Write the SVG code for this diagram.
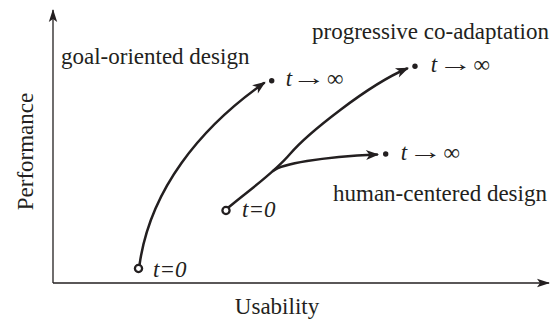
<svg xmlns="http://www.w3.org/2000/svg" width="559" height="320" viewBox="0 0 559 320" font-family="'Liberation Serif', 'Times New Roman', 'DejaVu Serif', serif">
<style>
text{font-family:'Liberation Serif','Times New Roman','DejaVu Serif',serif;font-size:23px;fill:#231f20}
.it{font-style:italic}
.axis{stroke:#231f20;stroke-width:1.3;fill:none}
.curve{stroke:#231f20;stroke-width:2.5;fill:none;stroke-linecap:round}
.open{fill:#fff;stroke:#231f20;stroke-width:2.3}
.dot{fill:#231f20}
</style>
<defs>
<marker id="ah" viewBox="-14 -6 15 12" markerWidth="15" markerHeight="12" refX="-2" refY="0" markerUnits="userSpaceOnUse" orient="auto">
<path d="M0,0 L-13,-5 L-9.5,0 L-13,5 Z" fill="#231f20"/>
</marker>
<marker id="axah" viewBox="-14 -6 15 12" markerWidth="15" markerHeight="12" refX="-1" refY="0" markerUnits="userSpaceOnUse" orient="auto">
<path d="M0,0 L-13,-4.2 L-10,0 L-13,4.2 Z" fill="#231f20"/>
</marker>
</defs>
<g id="axes">
<path class="axis" d="M53,283 L53,10" marker-end="url(#axah)"/>
<path class="axis" d="M53,283 L549,283" marker-end="url(#axah)"/>
<text transform="translate(33,151.5) rotate(-90)" text-anchor="middle">Performance</text>
<text x="277" y="314" text-anchor="middle">Usability</text>
</g>
<g id="connectors">
<path class="curve" d="M139.5,265 C150,190 200,128 264,83" marker-end="url(#ah)"/>
<path class="curve" d="M229,207 C249,190 273,174 290,154 S368,85 407,68.5" marker-end="url(#ah)"/>
<path class="curve" d="M273,171 C282,164 320,157 377,154.5" marker-end="url(#ah)"/>
</g>
<g id="goal">
<circle class="open" cx="138.5" cy="268.5" r="3.6"/>
<circle class="dot" cx="271.7" cy="80.7" r="2.7"/>
<text x="61" y="64">goal-oriented design</text>
<text class="it" x="153" y="277">t=0</text>
<text class="it" x="285.7" y="86">t</text>
<text transform="translate(292,85) scale(1.5,1)">→</text>
<text x="327" y="86">∞</text>
</g>
<g id="coadapt">
<circle class="open" cx="226" cy="210.5" r="3.6"/>
<circle class="dot" cx="415" cy="66.3" r="2.7"/>
<text x="312" y="39">progressive co-adaptation</text>
<text class="it" x="242" y="217">t=0</text>
<text class="it" x="430.7" y="72">t</text>
<text transform="translate(438.5,71) scale(1.5,1)">→</text>
<text x="473.5" y="72">∞</text>
</g>
<g id="human">
<circle class="dot" cx="385.7" cy="154" r="2.7"/>
<text x="333" y="201">human-centered design</text>
<text class="it" x="400.7" y="159.5">t</text>
<text transform="translate(408.5,158.5) scale(1.5,1)">→</text>
<text x="443.5" y="159.5">∞</text>
</g>
</svg>
